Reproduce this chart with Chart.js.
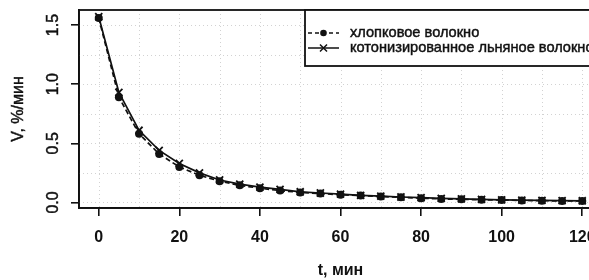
<!DOCTYPE html>
<html>
<head>
<meta charset="utf-8">
<script src="https://cdn.jsdelivr.net/npm/chart.js@4.4.1/dist/chart.umd.min.js"></script>
<style>
html,body{margin:0;padding:0;background:#fff;overflow:hidden;}
#wrap{width:620px;height:280px;}
</style>
</head>
<body>
<div id="wrap"><canvas id="c" width="620" height="280"></canvas></div>
<script>
// ---- data ----
const timeMin = [0,5,10,15,20,25,30,35,40,45,50,55,60,65,70,75,80,85,90,95,100,105,110,115,120];
const cotton  = [1.56,0.89,0.58,0.41,0.30,0.23,0.18,0.145,0.12,0.10,0.085,0.075,0.065,0.058,0.05,0.043,0.036,0.03,0.026,0.023,0.02,0.017,0.015,0.013,0.012];
const flax    = [1.57,0.93,0.61,0.44,0.33,0.25,0.19,0.155,0.13,0.11,0.09,0.08,0.07,0.06,0.053,0.046,0.04,0.034,0.03,0.026,0.022,0.019,0.017,0.015,0.014];
const seriesLabels = ['хлопковое волокно','котонизированное льняное волокно'];
const xTicks = [0,20,40,60,80,100,120];
const yTicks = [0,0.5,1.0,1.5];
const yTickLabels = ['0.0','0.5','1.0','1.5'];
const xTitle = 't, мин';
const yTitle = 'V, %/мин';

const FONT = '"Liberation Sans", Arial, sans-serif';
const INK = '#111';

function heavyText(ctx, s, x, y){
  ctx.fillText(s, x, y);
  ctx.lineWidth = 0.45; ctx.strokeStyle = INK; ctx.setLineDash([]);
  ctx.strokeText(s, x, y);
}

const gridPlugin = {
  id:'rgrid',
  beforeDatasetsDraw(chart){
    const {ctx, chartArea:a, scales:{x,y}} = chart;
    ctx.save();
    ctx.strokeStyle = '#d2d2d2';
    ctx.lineWidth = 1;
    ctx.setLineDash([1,3]);
    for(let v=0; v<=120; v+=10){
      const px = Math.round(x.getPixelForValue(v))+0.5;
      ctx.beginPath(); ctx.moveTo(px,a.top); ctx.lineTo(px,a.bottom); ctx.stroke();
    }
    for(let v=0; v<=1.5001; v+=0.25){
      const py = Math.round(y.getPixelForValue(v))+0.5;
      ctx.beginPath(); ctx.moveTo(a.left,py); ctx.lineTo(a.right,py); ctx.stroke();
    }
    ctx.restore();
  },
  afterDraw(chart){
    const {ctx, chartArea:a, scales:{y}} = chart;
    ctx.save();
    // box
    ctx.strokeStyle = INK; ctx.lineWidth = 1.8; ctx.setLineDash([]);
    ctx.strokeRect(a.left, a.top, a.right-a.left, a.bottom-a.top);
    // y tick labels, rotated
    ctx.fillStyle = INK;
    ctx.font = '16px ' + FONT;
    ctx.textAlign = 'center'; ctx.textBaseline = 'middle';
    yTicks.forEach((v,i)=>{
      ctx.save();
      ctx.translate(54, y.getPixelForValue(v));
      ctx.rotate(-Math.PI/2);
      heavyText(ctx, yTickLabels[i],0,0);
      ctx.restore();
    });
    // y title
    ctx.save();
    ctx.translate(19,(a.top+a.bottom)/2);
    ctx.rotate(-Math.PI/2);
    heavyText(ctx, yTitle,0,0);
    ctx.restore();
    // legend
    const lx = 305, ly = a.top, lh = 56;
    ctx.fillStyle = '#fff';
    ctx.fillRect(lx, ly, 330, lh);
    ctx.strokeStyle = INK; ctx.lineWidth = 1.8;
    ctx.strokeRect(lx, ly, 330, lh);
    const rows = [33,48];
    ctx.lineWidth = 1.5;
    // row 1 dashed with dot
    ctx.setLineDash([4,3]);
    ctx.beginPath(); ctx.moveTo(308,rows[0]); ctx.lineTo(339,rows[0]); ctx.stroke();
    ctx.setLineDash([]);
    ctx.fillStyle = INK;
    ctx.beginPath(); ctx.arc(323.5,rows[0],3.3,0,Math.PI*2); ctx.fill();
    // row 2 solid with x
    ctx.beginPath(); ctx.moveTo(308,rows[1]); ctx.lineTo(339,rows[1]); ctx.stroke();
    ctx.beginPath();
    ctx.moveTo(320,rows[1]-3.5); ctx.lineTo(327,rows[1]+3.5);
    ctx.moveTo(327,rows[1]-3.5); ctx.lineTo(320,rows[1]+3.5);
    ctx.stroke();
    ctx.font = '14.6px ' + FONT;
    ctx.textAlign = 'left'; ctx.textBaseline = 'middle';
    heavyText(ctx, seriesLabels[0], 350, rows[0]);
    heavyText(ctx, seriesLabels[1], 350, rows[1]);
    ctx.restore();
  }
};

new Chart(document.getElementById('c'), {
  type:'line',
  data:{
    datasets:[
      {label:seriesLabels[0], data:timeMin.map((t,i)=>({x:t,y:cotton[i]})),
       borderColor:INK, backgroundColor:INK, borderWidth:1.7, borderDash:[5,3],
       pointStyle:'circle', pointRadius:4, pointBorderWidth:0, tension:0},
      {label:seriesLabels[1], data:timeMin.map((t,i)=>({x:t,y:flax[i]})),
       borderColor:INK, backgroundColor:INK, borderWidth:1.7,
       pointStyle:'crossRot', pointRadius:5, pointBorderWidth:1.8, tension:0}
    ]
  },
  options:{
    responsive:false, animation:false, devicePixelRatio:1,
    layout:{padding:{left:0,right:18,top:10,bottom:0}},
    plugins:{legend:{display:false}, tooltip:{enabled:false}},
    scales:{
      x:{type:'linear', min:-4.9, max:124.9,
        afterBuildTicks:s=>{ s.ticks = xTicks.map(v=>({value:v})); },
        afterFit:s=>{ s.height = 72; },
        grid:{drawOnChartArea:false, drawTicks:true, tickLength:8, color:INK, lineWidth:1.6},
        border:{display:true, color:INK, width:1.8},
        ticks:{color:INK, font:{family:FONT,size:16,weight:'bold'}, padding:12, maxRotation:0,
          callback:v=>String(v)},
        title:{display:true, text:xTitle, color:INK, font:{family:FONT,size:16,weight:'bold'}, padding:{top:0,bottom:0}}
      },
      y:{type:'linear', min:-0.047, max:1.627,
        afterBuildTicks:s=>{ s.ticks = yTicks.map(v=>({value:v})); },
        afterFit:s=>{ s.width = 79; },
        grid:{drawOnChartArea:false, drawTicks:true, tickLength:8, color:INK, lineWidth:1.6},
        border:{display:true, color:INK, width:1.8},
        ticks:{display:false}
      }
    }
  },
  plugins:[gridPlugin]
});
</script>
</body>
</html>
